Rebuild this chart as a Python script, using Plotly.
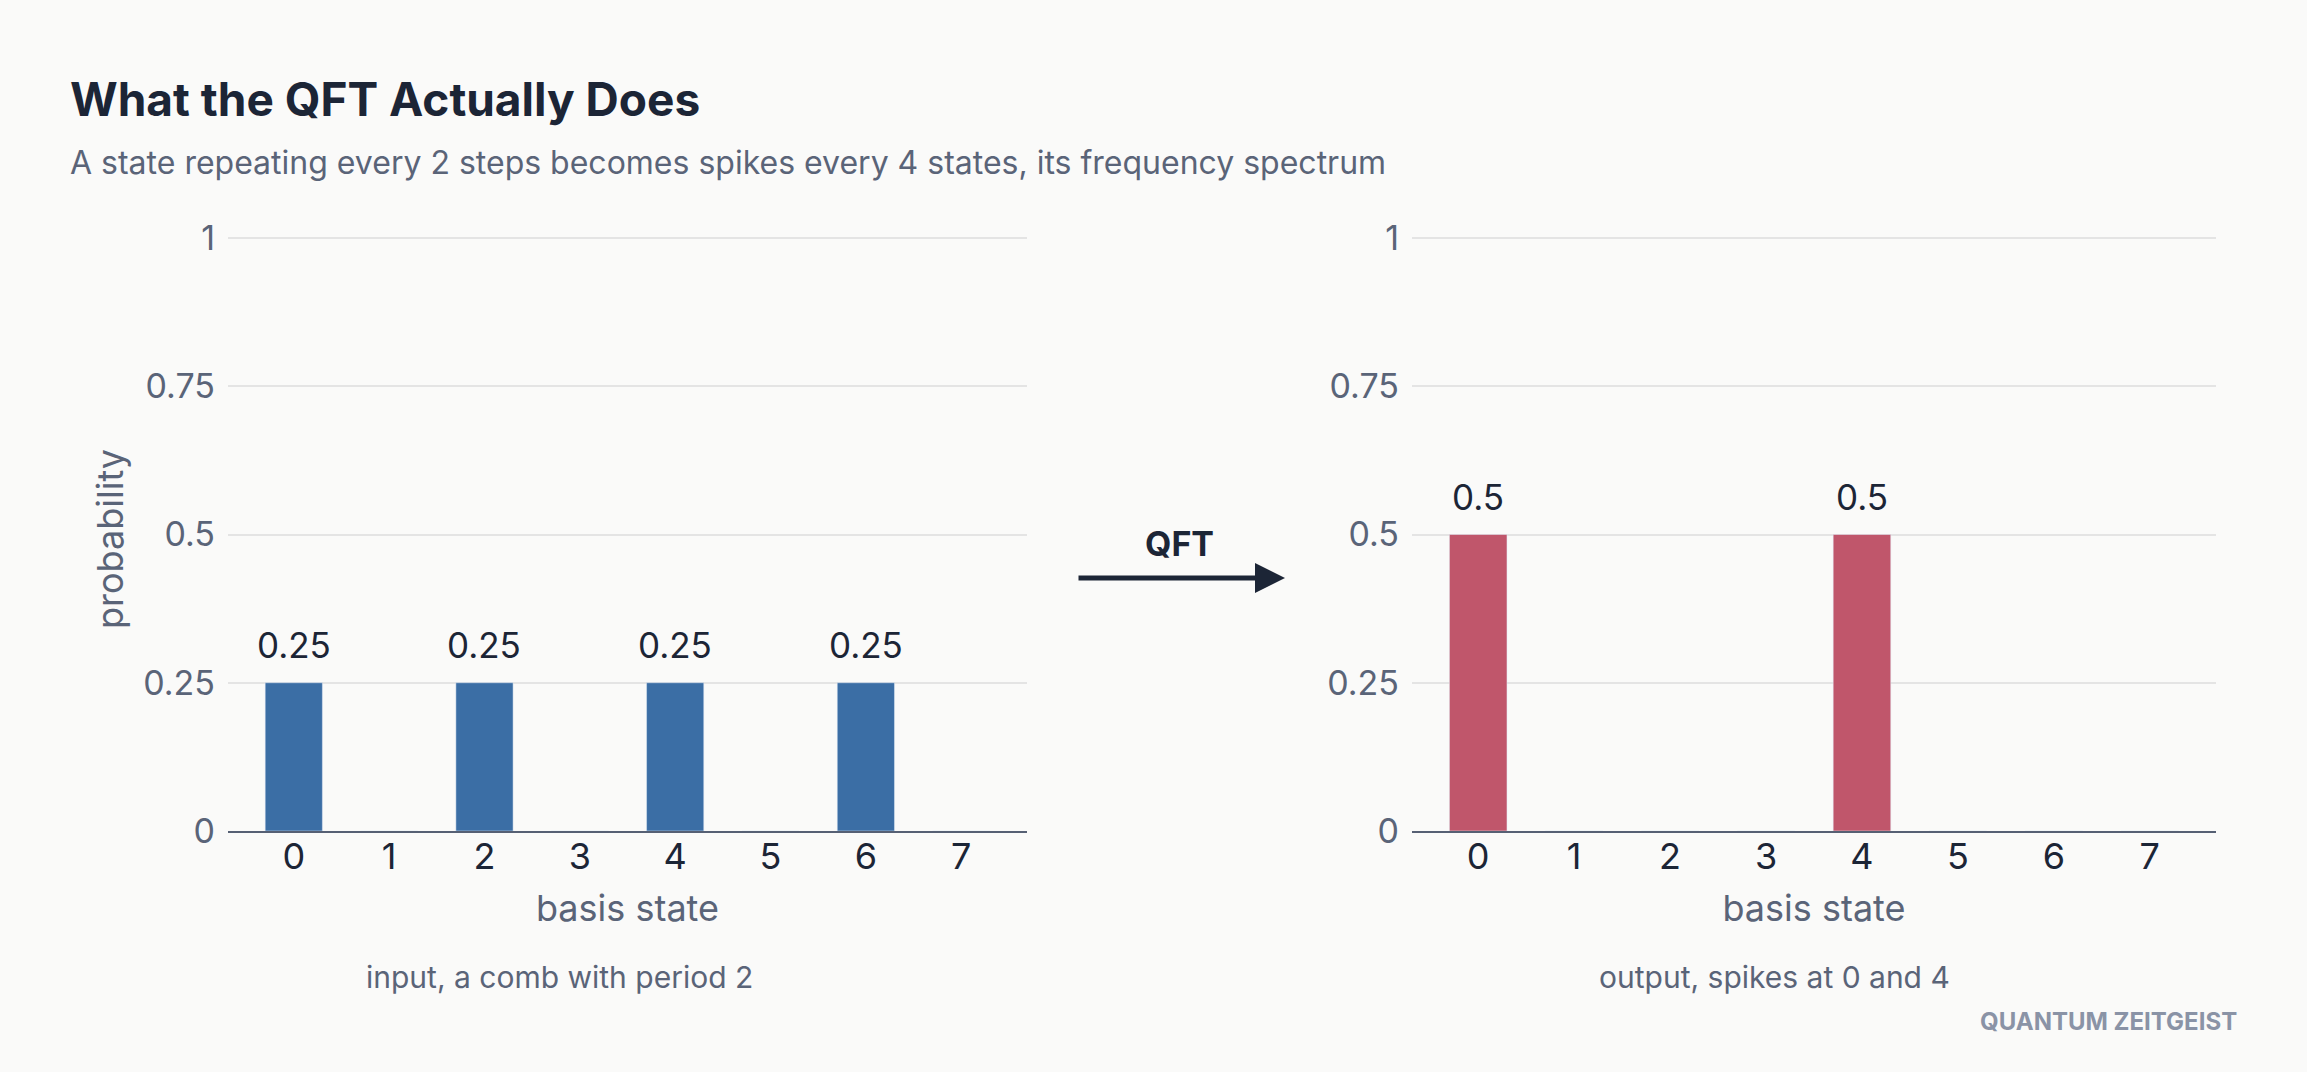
import plotly.graph_objects as go

states = [0, 1, 2, 3, 4, 5, 6, 7]
input_prob = [0.25, 0, 0.25, 0, 0.25, 0, 0.25, 0]
output_prob = [0.5, 0, 0, 0, 0.5, 0, 0, 0]
y_ticks = [0, 0.25, 0.5, 0.75, 1]
y_ticklabels = ["0", "0.25", "0.5", "0.75", "1"]

title = "What the QFT Actually Does"
subtitle = "A state repeating every 2 steps becomes spikes every 4 states, its frequency spectrum"
caption_left = "input, a comb with period 2"
caption_right = "output, spikes at 0 and 4"
brand = "QUANTUM ZEITGEIST"
y_title = "probability"
x_title = "basis state"

W, H = 2307, 1072
BG = "#fafaf9"
BLUE = "#3b6ea5"
RED = "#c0566b"
DARK = "#1c2536"
SLATE = "#5a6478"
GRID = "#e4e4e4"
FONT = "Inter"

fig = go.Figure()
fig.add_trace(go.Bar(x=states, y=input_prob, marker_color=BLUE, width=0.6,
                     xaxis="x", yaxis="y", hoverinfo="skip"))
fig.add_trace(go.Bar(x=states, y=output_prob, marker_color=RED, width=0.6,
                     xaxis="x2", yaxis="y2", hoverinfo="skip"))

def px_x(p):
    return p / W

def px_y(p):
    return 1 - p / H

YMAX = 1.006
xdom1 = [px_x(228), px_x(1027)]
xdom2 = [px_x(1412), px_x(2216)]
ydom = [px_y(831), px_y(238 - 0.006 * 593)]

xaxis_common = dict(
    range=[-0.69, 7.69], tickmode="array", tickvals=states,
    ticktext=[str(s) for s in states], automargin=False,
    showgrid=False, zeroline=False, showline=True, linecolor="#566074", linewidth=2,
    ticks="", ticklabelstandoff=-7, tickfont=dict(family=FONT, size=36, color=DARK),
    title=dict(text=x_title, font=dict(family=FONT, size=36, color=SLATE), standoff=19),
    fixedrange=True,
)
yaxis_common = dict(
    range=[0, YMAX], tickmode="array", tickvals=y_ticks, ticktext=y_ticklabels,
    showgrid=True, gridcolor=GRID, gridwidth=2, zeroline=False, showline=False,
    automargin=False,
    ticks="", ticklabelstandoff=12, tickfont=dict(family=FONT, size=34, color=SLATE),
    fixedrange=True,
)

fig.update_layout(
    width=W, height=H,
    margin=dict(l=0, r=0, t=0, b=0),
    paper_bgcolor=BG, plot_bgcolor=BG,
    showlegend=False,
    xaxis=dict(domain=xdom1, anchor="y", **xaxis_common),
    yaxis=dict(domain=ydom, anchor="x", **yaxis_common),
    xaxis2=dict(domain=xdom2, anchor="y2", **xaxis_common),
    yaxis2=dict(domain=ydom, anchor="x2", **yaxis_common),
    bargap=0.4,
)

ann = []
for xs, ys, ref in [(states, input_prob, ("x", "y")), (states, output_prob, ("x2", "y2"))]:
    for s, v in zip(xs, ys):
        if v > 0:
            ann.append(dict(x=s, y=v, xref=ref[0], yref=ref[1], text=f"{v:g}",
                            showarrow=False, yanchor="middle", yshift=38,
                            font=dict(family=FONT, size=35, color=DARK)))

ann += [
    dict(x=px_x(68), y=px_y(99), xref="paper", yref="paper", xanchor="left", yanchor="middle",
         text=f"<b>{title}</b>", showarrow=False, font=dict(family=FONT, size=46, color=DARK)),
    dict(x=px_x(68), y=px_y(162), xref="paper", yref="paper", xanchor="left", yanchor="middle",
         text=subtitle, showarrow=False, font=dict(family=FONT, size=32, color=SLATE)),
    dict(x=px_x(110), y=px_y(539), xref="paper", yref="paper", xanchor="center", yanchor="middle",
         text=y_title, textangle=-90, showarrow=False, font=dict(family=FONT, size=36, color=SLATE)),
    dict(x=px_x(559), y=px_y(977), xref="paper", yref="paper", xanchor="center", yanchor="middle",
         text=caption_left, showarrow=False, font=dict(family=FONT, size=30, color=SLATE)),
    dict(x=px_x(1774), y=px_y(977), xref="paper", yref="paper", xanchor="center", yanchor="middle",
         text=caption_right, showarrow=False, font=dict(family=FONT, size=30, color=SLATE)),
    dict(x=px_x(2239), y=px_y(1021), xref="paper", yref="paper", xanchor="right", yanchor="middle",
         text=f"<b>{brand}</b>", showarrow=False, font=dict(family=FONT, size=24, color="#8a93a6")),
    dict(x=px_x(1179), y=px_y(543), xref="paper", yref="paper", xanchor="center", yanchor="middle",
         text="<b>QFT</b>", showarrow=False, font=dict(family=FONT, size=34, color=DARK)),
    dict(x=px_x(1285), y=px_y(578), xref="paper", yref="paper", ax=-208, ay=0,
         axref="pixel", ayref="pixel", text="", showarrow=True, arrowhead=2, arrowsize=1.2,
         arrowwidth=5, arrowcolor=DARK, standoff=0),
]
fig.update_layout(annotations=ann)

fig.write_html("out.html")
